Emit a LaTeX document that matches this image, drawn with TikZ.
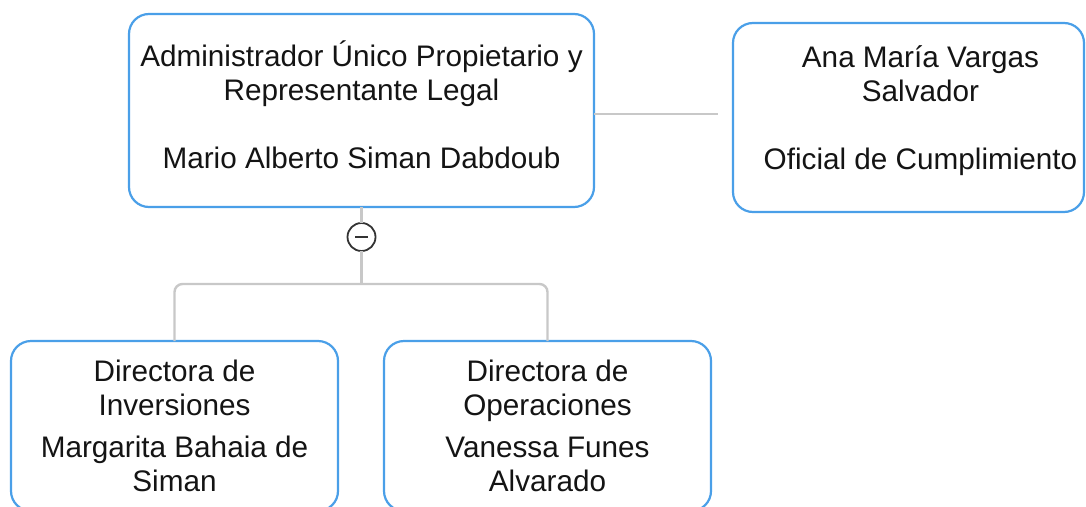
\documentclass[tikz,border=0pt]{standalone}
\usepackage{fontspec}
\setmainfont{Liberation Sans}
\usetikzlibrary{positioning}
\definecolor{rahmenblau}{HTML}{4A9FE8}
\definecolor{liniengrau}{HTML}{C8C8C8}
\definecolor{knopfgrau}{HTML}{333333}

\begin{document}
\begin{tikzpicture}[x=1pt,y=-1pt,node distance=40pt,
  main node/.style={draw=rahmenblau,line width=2.2pt,rounded corners=20pt,fill=white,align=center,text=black!92,outer sep=0pt,inner sep=0pt,font=\fontsize{29.7}{34}\selectfont},
  link/.style={draw=liniengrau,line width=2.4pt},
  toggle node/.style={circle,draw=knopfgrau,line width=1.8pt,fill=white,minimum size=28pt,inner sep=0pt,outer sep=0pt,
    path picture={\draw[knopfgrau,line width=2pt] ([xshift=-6.5pt]path picture bounding box.center) -- ([xshift=6.5pt]path picture bounding box.center);}}]

% Bildrahmen wie im Original
  \useasboundingbox (0,0) rectangle (1086,506);

% Personen, (Name) fuer die Verbindungen, text depth hebt den Text etwas an
  \node[main node,minimum width=465pt,minimum height=193pt,text depth=11pt] (admin) at (361.5,110.5) {Administrador Único Propietario y\\Representante Legal\\[34pt]Mario Alberto Siman Dabdoub};
  \node[main node,minimum width=351pt,minimum height=189pt,text depth=20pt] (oficial) [right=139pt of admin,yshift=-7pt] {\hspace*{24pt}Ana María Vargas\\\hspace*{24pt}Salvador\\[34pt]\hspace*{24pt}Oficial de Cumplimiento};
  \node[toggle node] (knopf) [below=16pt of admin] {}; % Knopf zum Einklappen
  \node[main node,minimum width=327pt,minimum height=170pt] (inversiones) at (174.5,426) {Directora de\\Inversiones\\[8pt]Margarita Bahaia de\\Siman};
  \node[main node,minimum width=327pt,minimum height=170pt] (operaciones) [right=46pt of inversiones] {Directora de\\Operaciones\\[8pt]Vanessa Funes\\Alvarado};

% Verbindungen
  \coordinate (ende) at ([xshift=124pt,yshift=-3.5pt]admin.east); % freies Ende, beruehrt den Kasten nicht
  \coordinate (verteiler) at ([yshift=-33pt]knopf.south);
  \path[link]
    (ende -| admin.east) edge (ende)
    (admin.south) edge (knopf.north)
    (knopf.south) edge (verteiler);
  \draw[link,rounded corners=8pt] (inversiones.north) |- (verteiler) -| (operaciones.north);
\end{tikzpicture}
\end{document}
